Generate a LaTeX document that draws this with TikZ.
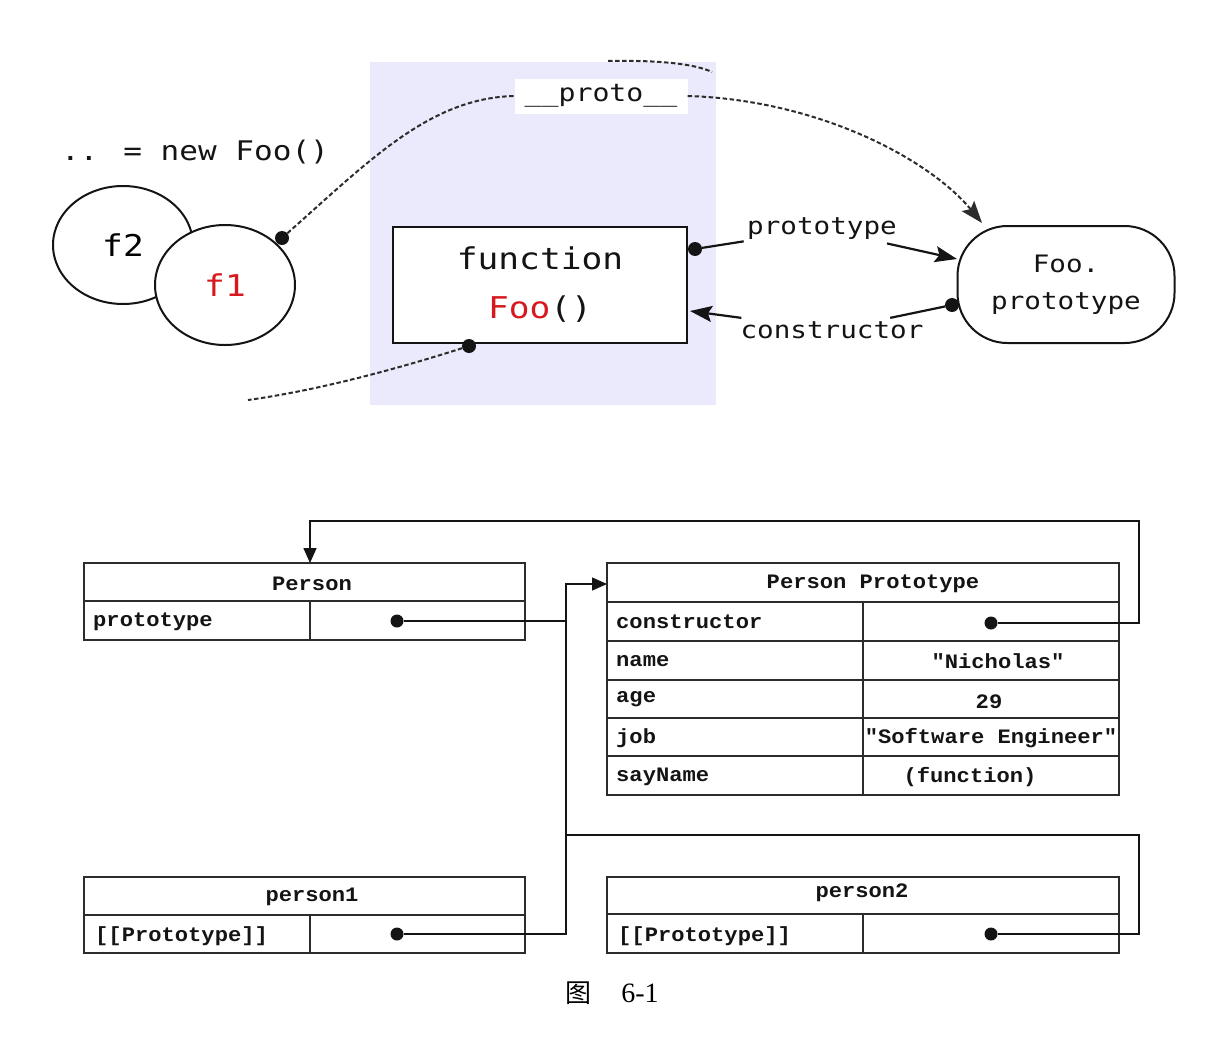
\documentclass[tikz,border=0pt]{standalone}
\usepackage{fontspec}
\usetikzlibrary{arrows.meta,shapes.geometric}
\newfontfamily\topf[FakeStretch=1.15]{DejaVu Sans Mono}
\newfontfamily\botf[FakeStretch=1.08]{Liberation Mono}
\newfontfamily\cjk{Noto Sans CJK SC}
\newfontfamily\capf{Liberation Serif}
\definecolor{lav}{RGB}{234,234,252}
\definecolor{fred}{RGB}{215,25,30}
\definecolor{ink}{RGB}{20,20,20}
\begin{document}
\begin{tikzpicture}[x=1pt,y=-1pt,
  tline/.style={line width=2.2pt, draw=ink},
  dashedc/.style={line width=2pt, draw=ink!90, dash pattern=on 4.5pt off 2.5pt},
  dotn/.style={circle, fill=ink, inner sep=0pt, minimum size=14pt},
  arrT/.style={-{Stealth[length=22pt,width=16pt,inset=4pt]}},
  tf/.style={font=\topf\fontsize{24}{37}\selectfont, text=ink},
  cellbox/.style={draw=ink!90, line width=1.5pt, inner sep=0pt},
  bt/.style={font=\botf\bfseries\fontsize{20.5}{24}\selectfont, text=ink, inner sep=0pt},
  barr/.style={line width=1.5pt, draw=ink, -{Triangle[length=15pt,width=13pt]}},
  bline/.style={line width=1.5pt, draw=ink},
  bdot/.style={circle, fill=ink, inner sep=0pt, minimum size=13pt}
]
\useasboundingbox (0,0) rectangle (1230,1044);

% ---------- top diagram ----------
\node[fill=lav, inner sep=0pt, minimum width=346pt, minimum height=343pt] (bg) at (543,233.5) {};

\coordinate (t1) at (608,61);
\coordinate (t2) at (712,72);
\draw[dashedc] (t1) .. controls (660,60) and (695,64) .. (t2);

\node[font=\topf\fontsize{27}{30}\selectfont, text=ink] (newfoo) at (195,152) {.. = new Foo()};

\node[ellipse, draw=ink, line width=2pt, fill=white, inner sep=0pt,
      minimum width=140pt, minimum height=118pt,
      font=\topf\fontsize{30}{32}\selectfont] (f2) at (123,245) {f2};
\node[ellipse, draw=ink, line width=2pt, fill=white, inner sep=0pt,
      minimum width=140pt, minimum height=120pt,
      font=\topf\fontsize{30}{32}\selectfont, text=fred] (f1) at (225,285) {f1};
\node[dotn] (d1) at (282,238) {};

\node[fill=white, inner sep=0pt, minimum width=173pt, minimum height=35pt,
      font=\topf\fontsize{24.5}{28}\selectfont, text=ink] (proto) at (601,96) {\_\_proto\_\_};

\node[draw=ink, line width=2pt, fill=white, minimum width=294pt, minimum height=116pt,
      align=center, font=\topf\fontsize{30}{49}\selectfont, text=ink] (fn) at (540,285)
      {function\\{\color{fred}Foo}()};
\node[dotn] (d2) at (695,249) {};
\node[dotn] (d3) at (469,346) {};

\node[draw=ink, line width=2pt, rounded corners=50pt, minimum width=217pt, minimum height=117pt,
      align=center, tf] (fp) at (1066,284.5) {Foo.\\prototype};
\node[dotn] (d4) at (952,305) {};

\node[tf] (plab) at (822,229) {prototype};
\node[tf] (clab) at (832,330) {constructor};

\coordinate (fpin) at (982,223);
\coordinate (pin) at (957,259);
\coordinate (cin) at (690,311);
\coordinate (lft) at (248,400);

\draw[dashedc] (d1) .. controls (370,160) and (430,98) .. (proto.west);
\draw[dashedc, arrT] (proto.east) .. controls (820,100) and (930,160) .. (fpin);
\draw[dashedc] (d3) .. controls (400,368) and (320,390) .. (lft);

\draw[tline] (d2) -- (plab);
\draw[tline, arrT] (plab) -- (pin);
\draw[tline] (d4) -- (clab);
\draw[tline, arrT] (clab) -- (cin);

% ---------- bottom diagram ----------
% Person
\node[cellbox, minimum width=441pt, minimum height=38pt] (pH) at (304.5,582) {};
\node[cellbox, minimum width=226pt, minimum height=39pt] (pL) at (197,620.5) {};
\node[cellbox, minimum width=215pt, minimum height=39pt] (pR) at (417.5,620.5) {};
\node[bt] (pHt) at (312,584) {Person};
\node[bt, anchor=west] (pLt) at (93,622) {prototype};
\node[bdot] (pdot) at (397,621) {};

% Person Prototype
\node[cellbox, minimum width=512pt, minimum height=39pt] (ppH) at (863,582.5) {};
\node[bt] (ppHt) at (873,584) {Person Prototype};
\node[cellbox, minimum width=256pt, minimum height=39pt] (r1L) at (735,621.5) {};
\node[cellbox, minimum width=256pt, minimum height=39pt] (r1R) at (991,621.5) {};
\node[cellbox, minimum width=256pt, minimum height=39pt] (r2L) at (735,660.5) {};
\node[cellbox, minimum width=256pt, minimum height=39pt] (r2R) at (991,660.5) {};
\node[cellbox, minimum width=256pt, minimum height=38pt] (r3L) at (735,699) {};
\node[cellbox, minimum width=256pt, minimum height=38pt] (r3R) at (991,699) {};
\node[cellbox, minimum width=256pt, minimum height=38pt] (r4L) at (735,737) {};
\node[cellbox, minimum width=256pt, minimum height=38pt] (r4R) at (991,737) {};
\node[cellbox, minimum width=256pt, minimum height=39pt] (r5L) at (735,775.5) {};
\node[cellbox, minimum width=256pt, minimum height=39pt] (r5R) at (991,775.5) {};
\node[bt, anchor=west] (r1t) at (616,622) {constructor};
\node[bt, anchor=west] (r2t) at (616,661) {name};
\node[bt, anchor=west] (r3t) at (616,699) {age};
\node[bt, anchor=west] (r4t) at (616,738) {job};
\node[bt, anchor=west] (r5t) at (616,777) {sayName};
\node[bdot] (cdot) at (991,623) {};
\node[bt] (v2) at (998,661) {"Nicholas"};
\node[bt] (v3) at (989,702) {29};
\node[bt] (v4) at (991,738) {"Software Engineer"};
\node[bt] (v5) at (970,777) {(function)};

% person1
\node[cellbox, minimum width=441pt, minimum height=38pt] (q1H) at (304.5,896) {};
\node[cellbox, minimum width=226pt, minimum height=38pt] (q1L) at (197,934) {};
\node[cellbox, minimum width=215pt, minimum height=38pt] (q1R) at (417.5,934) {};
\node[bt] (q1Ht) at (312,897) {person1};
\node[bt, anchor=west] (q1Lt) at (95,936) {[[Prototype]]};
\node[bdot] (q1dot) at (397,934) {};

% person2
\node[cellbox, minimum width=512pt, minimum height=37pt] (q2H) at (863,895.5) {};
\node[cellbox, minimum width=256pt, minimum height=39pt] (q2L) at (735,933.5) {};
\node[cellbox, minimum width=256pt, minimum height=39pt] (q2R) at (991,933.5) {};
\node[bt] (q2Ht) at (862,893) {person2};
\node[bt, anchor=west] (q2Lt) at (618,936) {[[Prototype]]};
\node[bdot] (q2dot) at (991,934) {};

% connectors
\coordinate (ca) at (1139,521);
\coordinate (cb) at (310,521);
\coordinate (pTop) at (310,563);
\coordinate (j1) at (566,621);
\coordinate (j2) at (566,835);
\coordinate (cc) at (1139,835);
\coordinate (ppin) at (607,584);

\draw[barr] (cdot) -| (ca) -- (cb) -- (pTop);
\draw[barr] (pdot) -- (j1) |- (ppin);
\draw[bline] (q1dot) -| (j1);
\draw[bline] (q2dot) -| (cc) -- (j2);

% caption
\node (cap) at (612,993) {{\cjk\fontsize{26}{30}\selectfont 图}\hspace{30pt}{\capf\fontsize{28}{30}\selectfont 6-1}};
\end{tikzpicture}
\end{document}
